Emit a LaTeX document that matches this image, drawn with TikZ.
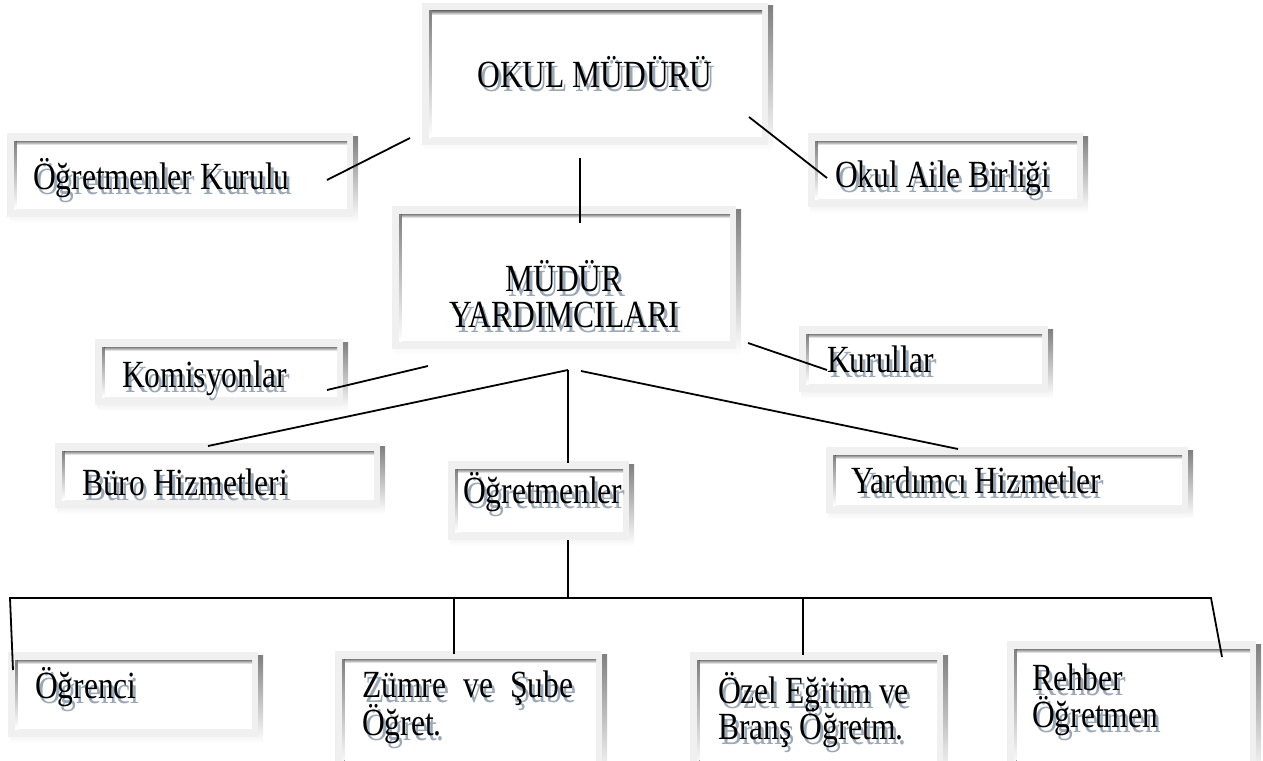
\documentclass[tikz,border=0pt]{standalone}
\usepackage{fontspec}
\setmainfont{Liberation Serif}
\definecolor{frameg}{RGB}{240,240,240}
\definecolor{shade}{RGB}{143,156,173}
\definecolor{shadowtext}{RGB}{155,168,183}
\newcommand\fs{\fontsize{31.5}{36}\selectfont}
\newcommand\tall[1]{\scalebox{1}[1.22]{#1}}
\tikzset{
  lbl/.style={anchor=base west, inner sep=0pt, font=\fs},
  lblc/.style={anchor=base, inner sep=0pt, font=\fs},
  conn/.style={line width=1.8pt, black},
}
% name, x0, y0, x1, y1
\newcommand\orgbox[5]{%
  \fill[shade] (#2+2,#3+3) rectangle (#4+5,#5+6);
  \fill[frameg] (#2,#3) rectangle (#4,#5);
  \fill[white] (#2+7,#3+8) rectangle (#4-6,#5-8);
  \fill[shade] (#2+7,#3+8) rectangle (#4-6,#3+12);
  \fill[shade] (#2+7,#3+8) rectangle (#2+9.5,#5-8);
  \coordinate (#1) at ({(#2+#4)/2},{(#3+#5)/2});
}
% name, style, x, y, text
\newcommand\stext[5]{%
  \node[#2, text=shadowtext] (#1s) at (#3+3,#4+5) {\tall{#5}};
  \node[#2] (#1) at (#3,#4) {\tall{#5}};
}
\begin{document}
\begin{tikzpicture}[x=1pt,y=-1pt]
\useasboundingbox (0,0) rectangle (1263,760);
\clip (0,0) rectangle (1263,760);
\orgbox{b1}{422}{3}{768}{145}
\orgbox{b2}{7}{133}{353}{217}
\orgbox{b3}{808}{133}{1083}{207}
\orgbox{b4}{392}{206}{736}{349}
\orgbox{b5}{799}{326}{1048}{392}
\orgbox{b6}{95}{339}{343}{405}
\orgbox{b7}{55}{443}{380}{508}
\orgbox{b8}{448}{461}{629}{540}
\orgbox{b9}{826}{447}{1188}{513}
\orgbox{b10}{8}{652}{258}{737}
\orgbox{b11}{335}{651}{602}{775}
\orgbox{b12}{690}{652}{943}{775}
\orgbox{b13}{1007}{641}{1256}{775}

\stext{t1}{lblc}{595}{87}{OKUL MÜDÜRÜ}
\stext{t2}{lbl}{33}{189}{Öğretmenler Kurulu}
\stext{t3}{lbl}{835}{187}{Okul Aile Birliği}
\stext{t4a}{lblc}{564}{291}{MÜDÜR}
\stext{t4b}{lblc}{564}{327}{YARDIMCILARI}
\stext{t5}{lbl}{827}{372}{Kurullar}
\stext{t6}{lbl}{122}{387}{Komisyonlar}
\stext{t7}{lbl}{82}{495}{Büro Hizmetleri}
\stext{t8}{lbl}{463}{503}{Öğretmenler}
\stext{t9}{lbl}{851}{493}{Yardımcı Hizmetler}
\stext{t10}{lbl}{35}{698}{Öğrenci}
\stext{t11a}{lbl}{362}{697}{\makebox[211pt][s]{Zümre\hfill ve\hfill Şube}}
\stext{t11b}{lbl}{362}{735}{Öğret.}
\stext{t12a}{lbl}{718}{703}{Özel Eğitim ve}
\stext{t12b}{lbl}{718}{739}{Branş Öğretm.}
\stext{t13a}{lbl}{1032}{690}{Rehber}
\stext{t13b}{lbl}{1032}{727}{Öğretmen}

% connector endpoints
\coordinate (p1a) at (410,138); \coordinate (p1b) at (327,180);
\coordinate (p2a) at (749,117); \coordinate (p2b) at (827,178);
\coordinate (p3a) at (580,158); \coordinate (p3b) at (580,223);
\coordinate (p4a) at (748,343); \coordinate (p4b) at (827,370);
\coordinate (p5a) at (428,366); \coordinate (p5b) at (327,390);
\coordinate (hub) at (568,370);
\coordinate (p6b) at (208,446);
\coordinate (p7b) at (568,463);
\coordinate (p8a) at (581,371); \coordinate (p8b) at (958,449);
\coordinate (p9a) at (568,540); \coordinate (bus) at (568,598);
\coordinate (busL) at (10,598); \coordinate (busR) at (1211,598);
\coordinate (d1) at (13,670);
\coordinate (d2a) at (454,598); \coordinate (d2b) at (454,654);
\coordinate (d3a) at (803,598); \coordinate (d3b) at (803,655);
\coordinate (d4) at (1222,657);

\draw[conn] (p1a) -- (p1b);
\draw[conn] (p2a) -- (p2b);
\draw[conn] (p3a) -- (p3b);
\draw[conn] (p4a) -- (p4b);
\draw[conn] (p5a) -- (p5b);
\draw[conn] (hub) -- (p6b);
\draw[conn] (hub) -- (p7b);
\draw[conn] (p8a) -- (p8b);
\draw[conn] (p9a) -- (bus);
\draw[conn] (d1) -- (busL) -- (busR) -- (d4);
\draw[conn] (d2a) -- (d2b);
\draw[conn] (d3a) -- (d3b);
\end{tikzpicture}
\end{document}
